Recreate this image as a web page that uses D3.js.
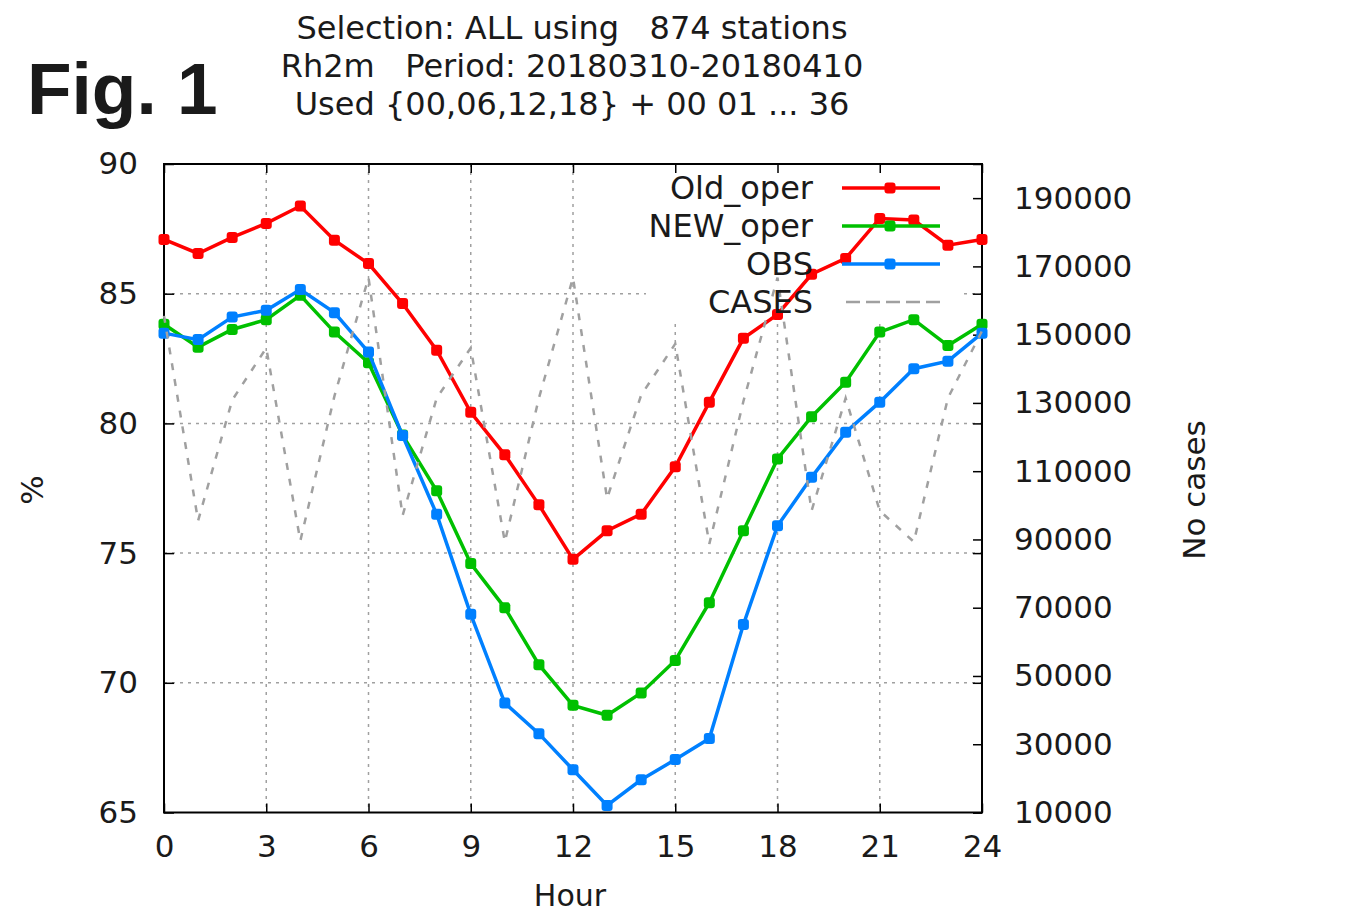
<!DOCTYPE html>
<html>
<head>
<meta charset="utf-8">
<script src="https://cdn.jsdelivr.net/npm/d3@7"></script>
<style>
    body { margin: 0; background: #fff; }
    text { font-family: 'DejaVu Sans', sans-serif; fill: #1a1a1a; }
</style>
</head>
<body>
<svg id="chart" width="1367" height="916"></svg>
<script>
// data
const hours = d3.range(0, 25);
const oldOper = [87.09, 86.55, 87.17, 87.71, 88.38, 87.06, 86.16, 84.62, 82.82, 80.43, 78.79, 76.86, 74.76,
    75.86, 76.5, 78.33, 80.82, 83.28, 84.2, 85.75, 86.36, 87.9, 87.84, 86.87, 87.09];
const newOper = [83.82, 82.94, 83.62, 84.0, 84.94, 83.52, 82.34, 79.55, 77.4, 74.6, 72.89, 70.7, 69.13,
    68.75, 69.61, 70.86, 73.09, 75.86, 78.63, 80.26, 81.59, 83.52, 84.0, 83.0, 83.82];
const obs = [83.48, 83.23, 84.1, 84.36, 85.16, 84.27, 82.75, 79.53, 76.5, 72.64, 69.22, 68.04, 66.65,
    65.27, 66.26, 67.04, 67.85, 72.25, 76.05, 77.92, 79.66, 80.82, 82.11, 82.4, 83.48];
const cases = [155500, 95500, 130800, 146100, 89600, 132000, 166700, 97000, 131400, 146100, 89300, 131400, 166700,
    102000, 132300, 147300, 88700, 130500, 166700, 98400, 131400, 98400, 89300, 131400, 151100];

const xTicks = [0, 3, 6, 9, 12, 15, 18, 21, 24];
const yTicks = [65, 70, 75, 80, 85, 90];
const y2Ticks = [10000, 30000, 50000, 70000, 90000, 110000, 130000, 150000, 170000, 190000];
const gridX = [3, 6, 9, 12, 15, 18, 21];
const gridY = [70, 75, 80, 85];

const titleLines = ['Selection: ALL using   874 stations', 'Rh2m   Period: 20180310-20180410',
    'Used {00,06,12,18} + 00 01 ... 36'];
const seriesNames = ['Old_oper', 'NEW_oper', 'OBS', 'CASES'];

const colors = {
    old: '#ff0000',
    neu: '#00c000',
    obs: '#0080ff',
    cases: '#a0a0a0',
    grid: '#a0a0a0'
};

const svg = d3.select('#chart');
const plotLeft = 164, plotRight = 982, plotTop = 164, plotBottom = 812.5;
const markSize = 11;

const x = d3.scaleLinear().domain([0, 24]).range([plotLeft, plotRight]);
const y = d3.scaleLinear().domain([65, 90]).range([plotBottom, plotTop]);
const y2 = d3.scaleLinear().domain([10000, 200000]).range([plotBottom, plotTop]);

// grid
const gridG = svg.append('g')
    .attr('stroke', colors.grid)
    .attr('stroke-width', 1.5)
    .attr('stroke-dasharray', '3,5');
gridG.selectAll('.gx').data(gridX).enter().append('line')
    .attr('x1', d => x(d)).attr('x2', d => x(d))
    .attr('y1', plotTop).attr('y2', plotBottom);
gridG.selectAll('.gy').data(gridY).enter().append('line')
    .attr('x1', plotLeft).attr('x2', plotRight)
    .attr('y1', d => y(d)).attr('y2', d => y(d));

// key area hides the grid
svg.append('rect')
    .attr('x', 646).attr('y', plotTop + 1)
    .attr('width', 316).attr('height', 157)
    .attr('fill', '#fff');

// axes
function styleAxis(g) {
    g.select('.domain').remove();
    g.selectAll('.tick line').attr('stroke', '#000').attr('stroke-width', 1.5);
    g.selectAll('.tick text').style('font-size', '31px').attr('fill', '#1a1a1a');
}

svg.append('g')
    .attr('transform', `translate(${plotLeft},0)`)
    .call(d3.axisLeft(y).tickValues(yTicks).tickSizeInner(-10).tickSizeOuter(0).tickPadding(26))
    .call(styleAxis);

svg.append('g')
    .attr('transform', `translate(0,${plotBottom})`)
    .call(d3.axisBottom(x).tickValues(xTicks).tickSizeInner(-9).tickSizeOuter(0).tickPadding(22))
    .call(styleAxis);

svg.append('g')
    .attr('transform', `translate(${plotRight},0)`)
    .call(d3.axisRight(y2).tickValues(y2Ticks).tickFormat(d3.format('d'))
        .tickSizeInner(-9).tickSizeOuter(0).tickPadding(32))
    .call(styleAxis);

// mirrored ticks
svg.append('g')
    .attr('transform', `translate(0,${plotTop})`)
    .call(d3.axisTop(x).tickValues(xTicks).tickSizeInner(-9).tickSizeOuter(0).tickFormat(''))
    .call(styleAxis);

svg.append('g')
    .attr('transform', `translate(${plotRight},0)`)
    .call(d3.axisRight(y).tickValues(yTicks).tickSizeInner(-9).tickSizeOuter(0).tickFormat(''))
    .call(styleAxis);

// border
svg.append('rect')
    .attr('x', plotLeft).attr('y', plotTop)
    .attr('width', plotRight - plotLeft).attr('height', plotBottom - plotTop)
    .attr('fill', 'none')
    .attr('stroke', '#000')
    .attr('stroke-width', 2);

// lines
const series = [
    {name: seriesNames[0], values: oldOper, color: colors.old},
    {name: seriesNames[1], values: newOper, color: colors.neu},
    {name: seriesNames[2], values: obs, color: colors.obs}
];

const line = d3.line()
    .x((d, i) => x(hours[i]))
    .y(d => y(d));

series.forEach(function (s) {
    svg.append('path')
        .datum(s.values)
        .attr('d', line)
        .attr('fill', 'none')
        .attr('stroke', s.color)
        .attr('stroke-width', 3.5);

    svg.selectAll(null)
        .data(s.values)
        .enter()
        .append('rect')
        .attr('x', (d, i) => x(hours[i]) - markSize / 2)
        .attr('y', d => y(d) - markSize / 2)
        .attr('width', markSize).attr('height', markSize)
        .attr('rx', 3)
        .attr('fill', s.color);
});

const casesLine = d3.line()
    .x((d, i) => x(hours[i]))
    .y(d => y2(d));

svg.append('path')
    .datum(cases)
    .attr('d', casesLine)
    .attr('fill', 'none')
    .attr('stroke', colors.cases)
    .attr('stroke-width', 2.5)
    .attr('stroke-dasharray', '7,9');

// legend
const legendG = svg.append('g');
const rowH = 38;
series.forEach(function (s, i) {
    const ly = 188 + i * rowH;
    legendG.append('text')
        .attr('x', 813).attr('y', ly)
        .attr('dy', '0.35em')
        .attr('text-anchor', 'end')
        .style('font-size', '32px')
        .text(s.name);
    legendG.append('line')
        .attr('x1', 842).attr('x2', 940)
        .attr('y1', ly).attr('y2', ly)
        .attr('stroke', s.color)
        .attr('stroke-width', 3.5);
    legendG.append('rect')
        .attr('x', 890 - markSize / 2).attr('y', ly - markSize / 2)
        .attr('width', markSize).attr('height', markSize)
        .attr('rx', 3)
        .attr('fill', s.color);
});
legendG.append('text')
    .attr('x', 813).attr('y', 188 + 3 * rowH)
    .attr('dy', '0.35em')
    .attr('text-anchor', 'end')
    .style('font-size', '32px')
    .text(seriesNames[3]);
legendG.append('line')
    .attr('x1', 846).attr('x2', 940)
    .attr('y1', 188 + 3 * rowH).attr('y2', 188 + 3 * rowH)
    .attr('stroke', colors.cases)
    .attr('stroke-width', 2.5)
    .attr('stroke-dasharray', '14,6');

// titles
titleLines.forEach(function (t, i) {
    svg.append('text')
        .attr('x', 572).attr('y', 39 + i * 38)
        .attr('text-anchor', 'middle')
        .style('font-size', '32px')
        .style('white-space', 'pre')
        .text(t);
});

svg.append('text')
    .attr('x', 27).attr('y', 114)
    .style('font-family', "'Liberation Sans', Arial, sans-serif")
    .style('font-weight', 'bold')
    .style('font-size', '73px')
    .attr('fill', '#000')
    .text('Fig. 1');

svg.append('text')
    .attr('x', 570).attr('y', 906)
    .attr('text-anchor', 'middle')
    .style('font-size', '30px')
    .text('Hour');

svg.append('text')
    .attr('transform', 'translate(43, 490) rotate(-90)')
    .attr('text-anchor', 'middle')
    .style('font-size', '31px')
    .text('%');

svg.append('text')
    .attr('transform', 'translate(1205, 490) rotate(-90)')
    .attr('text-anchor', 'middle')
    .style('font-size', '31px')
    .text('No cases');
</script>
</body>
</html>
